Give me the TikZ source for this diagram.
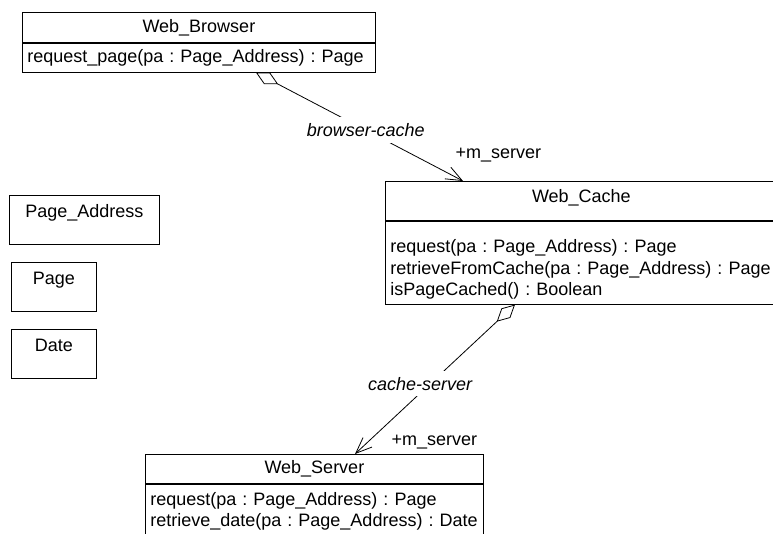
\documentclass[tikz,border=0pt]{standalone}
\usepackage{fontspec}
\setmainfont{Liberation Sans}
\usetikzlibrary{arrows.meta}

\begin{document}
\begin{tikzpicture}[x=1pt,y=-1pt,
  every node/.style={font=\fontsize{18}{21.5}\selectfont\frenchspacing},
  classname/.style={draw, line width=0.8pt, inner sep=0pt, anchor=north west},
  classops/.style={draw, line width=0.8pt, inner xsep=5pt, inner ysep=0pt, anchor=north west, align=left},
  datatype/.style={draw, line width=0.8pt, inner sep=0pt, text height=22.5pt, text depth=26.5pt, anchor=north west},
  aggr/.style={line width=0.8pt, {Diamond[open,length=25pt,width=13pt]}-{Straight Barb[length=16pt,width=13pt]}},
  assocname/.style={fill=white, inner xsep=3pt, inner ysep=6pt, font=\fontsize{18}{21.5}\selectfont\itshape},
  role/.style={anchor=base west}]
\useasboundingbox (0,0) rectangle (773,534);

% Web browser
\node[classname, minimum width=353pt, minimum height=30pt] (browser) at (22,12) {Web\_Browser};
\node[classops, text width=343pt, minimum height=29pt] (browserops) at (browser.south west) {request\_page(pa : Page\_Address) : Page};

% Web cache
\node[classname, minimum width=392pt, minimum height=39pt, text height=13pt, text depth=10pt] (cache) at (385,181) {Web\_Cache};
\node[classops, text width=382pt, minimum height=83pt] (cacheops) at (cache.south west) {\rule{0pt}{27pt}request(pa : Page\_Address) : Page\\ retrieveFromCache(pa : Page\_Address) : Page\\ isPageCached() : Boolean};

% Web server
\node[classname, minimum width=338pt, minimum height=29pt] (server) at (145,454) {Web\_Server};
\node[classops, text width=328pt, inner ysep=8pt] (serverops) at (server.south west) {request(pa : Page\_Address) : Page\\ retrieve\_date(pa : Page\_Address) : Date};

% data types
\node[datatype, minimum width=150pt] (address) at (9,195) {Page\_Address};
\node[datatype, minimum width=85pt] (page) at (11,262) {Page};
\node[datatype, minimum width=85pt] (date) at (11,329) {Date};

% associations
\draw[aggr] ([xshift=234pt]browserops.south west) -- node[assocname, pos=0.53] (bc) {browser-cache} ([xshift=78pt]cache.north west);
\node[role] (bcrole) at (452,159) {+m\_server};
\draw[aggr] ([xshift=130pt]cacheops.south west) -- node[assocname, pos=0.53, xshift=-10pt] (cs) {cache-server} ([xshift=210pt]server.north west);
\node[role] (csrole) at (388,445) {+m\_server};
\end{tikzpicture}
\end{document}
